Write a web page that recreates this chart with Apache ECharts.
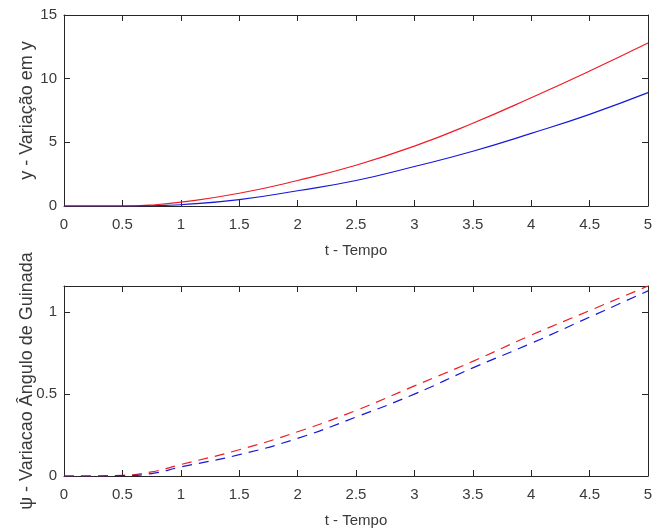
<!DOCTYPE html>
<html>
<head>
<meta charset="utf-8">
<script src="https://cdn.jsdelivr.net/npm/echarts@6/dist/echarts.min.js"></script>
<style>
  html, body { margin: 0; padding: 0; background: #fff; }
  #chart { width: 656px; height: 529px; }
</style>
</head>
<body>
<div id="chart"></div>
<script>
// tempo (s)
var tempo = [0, 0.25, 0.5, 0.75, 1, 1.5, 2, 2.5, 3, 3.5, 4, 4.5, 5];

// grafico de cima: variacao em y
var yVermelho = [0, 0, 0, 0.08, 0.3, 1.0, 2.0, 3.2, 4.7, 6.5, 8.5, 10.6, 12.8];
var yAzul     = [0, 0, 0, 0.02, 0.1, 0.5, 1.2, 2.0, 3.1, 4.3, 5.7, 7.2, 8.9];

// grafico de baixo: angulo de guinada
var psiVermelho = [0, 0, 0.004, 0.025, 0.07, 0.16, 0.27, 0.40, 0.55, 0.70, 0.86, 1.01, 1.16];
var psiAzul     = [0, 0, 0.002, 0.015, 0.055, 0.13, 0.23, 0.36, 0.50, 0.66, 0.81, 0.97, 1.13];

var xTicks = [0, 5, 0.5];        // min, max, intervalo
var yTicksCima = [0, 15, 5];
var yTicksBaixo = [0, 1.16, 0.5];

function par(xs, ys) {
  return xs.map(function (t, i) { return [t, ys[i]]; });
}

var corTexto = '#3a3a3a';
var corEixo = '#262626';
var fonte = '"Liberation Sans", Arial, sans-serif';

function eixoX(grid, pos, comNome) {
  return {
    type: 'value', gridIndex: grid, position: pos,
    min: xTicks[0], max: xTicks[1], interval: xTicks[2],
    name: comNome ? 't - Tempo' : '', nameLocation: 'middle', nameGap: 37,
    nameTextStyle: { color: corTexto, fontSize: 15, fontFamily: fonte },
    axisLine: { onZero: false, lineStyle: { color: corEixo, width: 1 } },
    axisTick: { inside: true, length: 6, lineStyle: { color: corEixo } },
    axisLabel: { show: comNome, color: corTexto, fontSize: 15, fontFamily: fonte, margin: 11 },
    splitLine: { show: false }
  };
}

function eixoY(grid, pos, ticks, nome) {
  return {
    type: 'value', gridIndex: grid, position: pos,
    min: ticks[0], max: ticks[1], interval: ticks[2],
    name: nome || '', nameLocation: 'middle', nameGap: 28, nameMoveOverlap: false,
    nameTextStyle: { color: corTexto, fontSize: 18, fontFamily: fonte },
    axisLine: { onZero: false, lineStyle: { color: corEixo, width: 1 } },
    axisTick: { inside: true, length: 6, lineStyle: { color: corEixo } },
    axisLabel: {
      show: !!nome, color: corTexto, fontSize: 15, fontFamily: fonte, margin: 7,
      formatter: function (v) {
        var k = v / ticks[2];
        return Math.abs(k - Math.round(k)) < 1e-6 ? String(v) : '';
      }
    },
    splitLine: { show: false }
  };
}

function linha(xi, yi, dados, cor, tracejado) {
  return {
    type: 'line', xAxisIndex: xi, yAxisIndex: yi,
    data: dados, showSymbol: false, smooth: 0.5,
    lineStyle: { color: cor, width: 1.2, type: tracejado ? [10, 7] : 'solid' },
    animation: false
  };
}

var chart = echarts.init(document.getElementById('chart'));
chart.setOption({
  backgroundColor: '#fff',
  animation: false,
  grid: [
    { left: 64, right: 8, top: 15, height: 191 },
    { left: 64, right: 8, top: 286, height: 190 }
  ],
  xAxis: [
    eixoX(0, 'bottom', true), eixoX(0, 'top', false),
    eixoX(1, 'bottom', true), eixoX(1, 'top', false)
  ],
  yAxis: [
    eixoY(0, 'left', yTicksCima, 'y - Variação em y'), eixoY(0, 'right', yTicksCima),
    eixoY(1, 'left', yTicksBaixo, 'ψ - Variacao Ângulo de Guinada'), eixoY(1, 'right', yTicksBaixo)
  ],
  series: [
    linha(0, 0, par(tempo, yVermelho), '#ee1c25', false),
    linha(0, 0, par(tempo, yAzul), '#1818d8', false),
    linha(2, 2, par(tempo, psiVermelho), '#ee1c25', true),
    linha(2, 2, par(tempo, psiAzul), '#1818d8', true)
  ]
});
</script>
</body>
</html>
